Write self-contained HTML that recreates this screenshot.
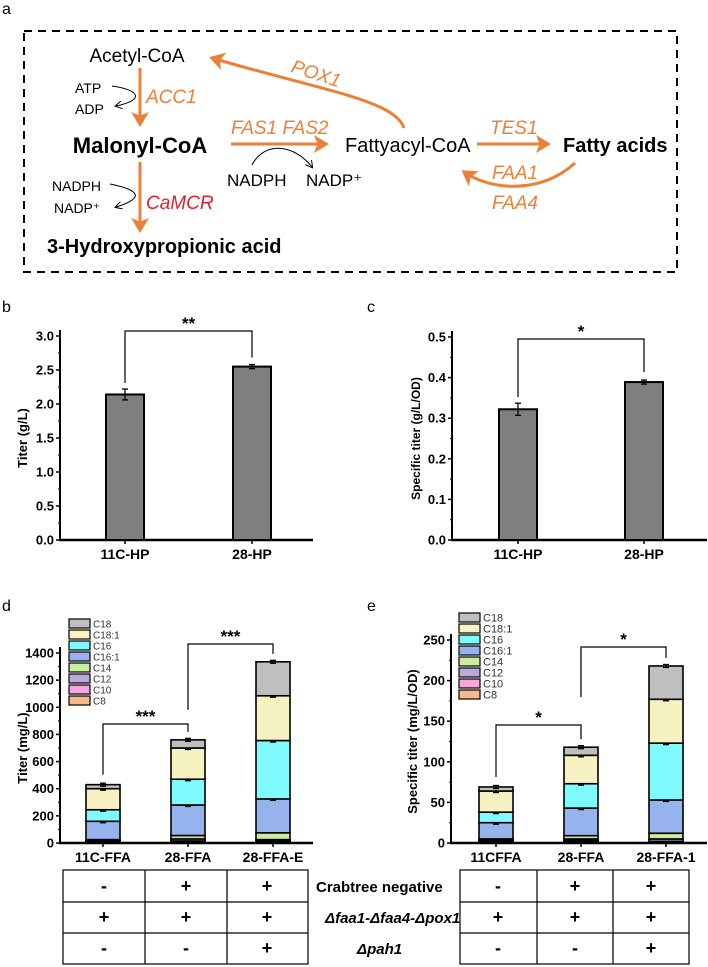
<!DOCTYPE html>
<html><head><meta charset="utf-8"><style>
html,body{margin:0;padding:0;background:#fff}
svg{display:block;font-family:"Liberation Sans",Arial,sans-serif}
</style></head><body>
<svg id="fig" width="708" height="967" viewBox="0 0 708 967" xmlns="http://www.w3.org/2000/svg">
<defs>
<marker id="oa" markerWidth="6" markerHeight="6" refX="4" refY="3" orient="auto" markerUnits="strokeWidth"><path d="M0,0 L5,3 L0,6 L1.2,3 Z" fill="#ec8038"/></marker>
<marker id="ka" markerWidth="8" markerHeight="8" refX="6" refY="4" orient="auto" markerUnits="userSpaceOnUse"><path d="M0,0 L7,4 L0,8" fill="none" stroke="#000" stroke-width="1"/></marker>
</defs>
<!-- Panel a -->
<g>
<text x="2" y="14" font-size="16">a</text>
<rect x="24" y="31" width="653" height="241" fill="none" stroke="#000" stroke-width="2" stroke-dasharray="8,6"/>
<text x="137" y="62" font-size="19" text-anchor="middle">Acetyl-CoA</text>
<text x="140" y="153" font-size="22" font-weight="bold" text-anchor="middle">Malonyl-CoA</text>
<text x="47" y="253" font-size="20" font-weight="bold">3-Hydroxypropionic acid</text>
<text x="345" y="152" font-size="20">Fattyacyl-CoA</text>
<text x="563" y="152" font-size="20" font-weight="bold">Fatty acids</text>
<line x1="140" y1="68" x2="140" y2="124" stroke="#ec8038" stroke-width="3" marker-end="url(#oa)"/>
<line x1="140" y1="162" x2="140" y2="230" stroke="#ec8038" stroke-width="3" marker-end="url(#oa)"/>
<line x1="231" y1="144" x2="326" y2="144" stroke="#ec8038" stroke-width="3" marker-end="url(#oa)"/>
<line x1="477" y1="144" x2="548" y2="144" stroke="#ec8038" stroke-width="3" marker-end="url(#oa)"/>
<path d="M404,128 C395,100 320,90 212,58" fill="none" stroke="#ec8038" stroke-width="3" marker-end="url(#oa)"/>
<path d="M575,163 C540,195 490,190 464,172" fill="none" stroke="#ec8038" stroke-width="3" marker-end="url(#oa)"/>
<g font-style="italic" font-size="19" fill="#ec8038">
<text x="146" y="103">ACC1</text>
<text x="231" y="134">FAS1 FAS2</text>
<text x="290" y="80" transform="rotate(18 316 76)">POX1</text>
<text x="490" y="134">TES1</text>
<text x="492" y="179">FAA1</text>
<text x="492" y="209">FAA4</text>
</g>
<text x="146" y="209" font-style="italic" font-size="19" fill="#e0202a">CaMCR</text>
<g font-size="14">
<text x="75" y="93">ATP</text>
<text x="75" y="114">ADP</text>
<text x="52" y="191">NADPH</text>
<text x="54" y="213">NADP⁺</text>
</g>
<g font-size="17">
<text x="227" y="186">NADPH</text>
<text x="306" y="186">NADP⁺</text>
</g>
<path d="M112,86 C140,90 145,100 116,106" fill="none" stroke="#000" stroke-width="1" marker-end="url(#ka)"/>
<path d="M110,184 C140,190 145,198 116,207" fill="none" stroke="#000" stroke-width="1" marker-end="url(#ka)"/>
<path d="M252,165 C265,140 295,145 312,167" fill="none" stroke="#000" stroke-width="1" marker-end="url(#ka)"/>
</g>
<g id="charts"></g>
<!-- tables -->
<g stroke="#000" stroke-width="1.2" fill="none">
<rect x="63" y="870" width="245" height="94"/>
<line x1="63" y1="902" x2="308" y2="902"/><line x1="63" y1="933" x2="308" y2="933"/>
<line x1="145" y1="870" x2="145" y2="964"/><line x1="227" y1="870" x2="227" y2="964"/>
</g>
<g stroke="#000" stroke-width="1.2" fill="none">
<rect x="460" y="870" width="229" height="94"/>
<line x1="460" y1="902" x2="689" y2="902"/><line x1="460" y1="933" x2="689" y2="933"/>
<line x1="537" y1="870" x2="537" y2="964"/><line x1="613" y1="870" x2="613" y2="964"/>
</g>
<g font-size="15" font-weight="bold">
<text x="316" y="892">Crabtree negative</text>
<text x="325" y="923" font-style="italic">Δfaa1-Δfaa4-Δpox1</text>
<text x="357" y="954" font-style="italic">Δpah1</text>
</g>
<g id="tablecells" font-size="18" font-weight="bold" text-anchor="middle"></g>
</svg>
<script>
// ---- data ----
const barCats = ["11C-HP","28-HP"];
const titerB = [2.14, 2.55];
const titerBErr = [0.08, 0.03];
const specC = [0.322, 0.389];
const specCErr = [0.015, 0.005];
const fattyAcids = ["C8","C10","C12","C14","C16:1","C16","C18:1","C18"];
const faColors = ["#f6b98a","#f6a6da","#b9aad8","#c8eda0","#97b3ee","#80fbfd","#f6f2c2","#bfbfbf"];
const catsD = ["11C-FFA","28-FFA","28-FFA-E"];
const segD_C8 = [5,10,8];
const segD_C10 = [5,5,5];
const segD_C12 = [10,15,12];
const segD_C14 = [5,25,50];
const segD_C161 = [135,225,250];
const segD_C16 = [85,190,430];
const segD_C181 = [155,230,330];
const segD_C18 = [30,60,250];
const catsE = ["11CFFA","28-FFA","28-FFA-1"];
const segE_C8 = [1,2,1];
const segE_C10 = [1,1,1];
const segE_C12 = [2,2,3];
const segE_C14 = [1,4,7];
const segE_C161 = [20,34,41];
const segE_C16 = [13,30,70];
const segE_C181 = [26,35,54];
const segE_C18 = [5,10,41];
const ticksB = [0,0.5,1.0,1.5,2.0,2.5,3.0];
const ticksC = [0,0.1,0.2,0.3,0.4,0.5];
const ticksD = [0,200,400,600,800,1000,1200,1400];
const ticksE = [0,50,100,150,200,250];
const tableD = [["-","+","+"],["+","+","+"],["-","-","+"]];
const tableE = [["-","+","+"],["+","+","+"],["-","-","+"]];

const NS="http://www.w3.org/2000/svg";
const root=document.getElementById('charts');
function mk(tag,at,parent){const e=document.createElementNS(NS,tag);for(const k in at)e.setAttribute(k,at[k]);(parent||root).appendChild(e);return e;}

function axes(cfg){
  const g=mk('g',{});
  
  
  const y=v=>cfg.y0-(v-cfg.min)/(cfg.max-cfg.min)*(cfg.y0-cfg.y1);
  const ya=mk('line',{x1:cfg.x0,y1:cfg.y0+1,x2:cfg.x0,y2:cfg.y1-6,stroke:'#000','stroke-width':2},g);
  
  
  const xa=mk('line',{x1:cfg.x0-1,y1:cfg.y0,x2:cfg.xe,y2:cfg.y0,stroke:'#000','stroke-width':2.5},g);
  
  
  cfg.ticks.forEach((t,i)=>{
    const yy=y(t);
    mk('line',{x1:cfg.x0-4,y1:yy,x2:cfg.x0,y2:yy,stroke:'#000','stroke-width':1.5},g);
    if(i<cfg.ticks.length-1){const ym=y((t+cfg.ticks[i+1])/2);mk('line',{x1:cfg.x0-2,y1:ym,x2:cfg.x0,y2:ym,stroke:'#000','stroke-width':1},g);}
    const tx=mk('text',{x:cfg.x0-6,y:yy+4.5,'font-size':13,'font-weight':'bold','text-anchor':'end'},g);
    tx.textContent=cfg.fmt(t);
    
    
  });
  const at=mk('text',{x:0,y:0,'font-size':cfg.titleSize||13,'font-weight':'bold','text-anchor':'middle',transform:`translate(${cfg.titleX},${(cfg.y0+cfg.y1)/2}) rotate(-90)`},g);
  at.textContent=cfg.title;
  
  
  cfg.cats.forEach((c,i)=>{
    const cx=cfg.xs[i];
    mk('line',{x1:cfg.xs[i],y1:cfg.y0,x2:cfg.xs[i],y2:cfg.y0+4,stroke:'#000','stroke-width':1.5},g);
    const t=mk('text',{x:cx,y:cfg.y0+19,'font-size':14,'font-weight':'bold','text-anchor':'middle'},g);
    t.textContent=c;
    
    
  });
  const pl=mk('text',{x:cfg.lx,y:cfg.ly,'font-size':16},g);
  pl.textContent=cfg.label;
  
  
  return {g,y};
}
function errbar(g,x,yv,ye){
  mk('line',{x1:x,y1:yv-ye,x2:x,y2:yv+ye,stroke:'#000','stroke-width':1.3},g);
  mk('line',{x1:x-3,y1:yv-ye,x2:x+3,y2:yv-ye,stroke:'#000','stroke-width':1.3},g);
  mk('line',{x1:x-3,y1:yv+ye,x2:x+3,y2:yv+ye,stroke:'#000','stroke-width':1.3},g);
}
function bracket(g,x1,x2,yTop,d1,d2,label){
  mk('path',{d:`M${x1},${d1} L${x1},${yTop} L${x2},${yTop} L${x2},${d2}`,fill:'none',stroke:'#000','stroke-width':1.2},g);
  const t=mk('text',{x:(x1+x2)/2,y:yTop-2,'font-size':17,'font-weight':'bold','text-anchor':'middle'},g);
  t.textContent=label;
  
  
}
function simple(cfg,vals,errs){
  const {g,y}=axes(cfg);
  vals.forEach((v,i)=>{
    const r=mk('rect',{x:cfg.xs[i]-19,y:y(v),width:38,height:cfg.y0-y(v),fill:'#7f7f7f',stroke:'#000','stroke-width':2},g);
    
    
    errbar(g,cfg.xs[i],y(v),Math.max(2,(cfg.y0-y(cfg.min+errs[i]))));
  });
  return {g,y};
}
const fmt1=v=>v.toFixed(1);
const b=simple({name:'chart-b-titer',x0:60,xe:313,y0:540,y1:336,min:0,max:3,ticks:ticksB,fmt:fmt1,title:'Titer (g/L)',titleX:27,cats:barCats,xs:[125,252],lx:2,ly:312,label:'b'},titerB,titerBErr);
bracket(b.g,125,252,331,b.y(titerB[0]+titerBErr[0])-6,b.y(titerB[1])-9,'**');
const c=simple({name:'chart-c-specific-titer',x0:452,xe:707,y0:540,y1:337,min:0,max:0.5,ticks:ticksC,fmt:fmt1,title:'Specific titer (g/L/OD)',titleX:420,titleSize:12,cats:barCats,xs:[518,644],lx:367,ly:312,label:'c'},specC,specCErr);
bracket(c.g,518,644,339,c.y(specC[0]+specCErr[0])-6,c.y(specC[1])-10,'*');

function stacked(cfg,segs,legX,legY){
  const {g,y}=axes(cfg);
  const tops=[];
  cfg.cats.forEach((cat,i)=>{
    let cum=0;
    segs.forEach((s,k)=>{
      const y1=y(cum+s[i]),y0=y(cum);
      const r=mk('rect',{x:cfg.xs[i]-17,y:y1,width:34,height:y0-y1,fill:faColors[k],stroke:'#000','stroke-width':1.6},g);
      
      
      cum+=s[i];
      if(k>=4) errbar(g,cfg.xs[i],y1,1.5);
    });
    tops.push(cum);
  });
  const lg=mk('g',{},g);
  
  
  for(let k=7;k>=0;k--){
    const row=7-k, yy=legY+row*11;
    mk('rect',{x:legX,y:yy,width:21,height:9,fill:faColors[k],stroke:'#000','stroke-width':1.2},lg);
    const t=mk('text',{x:legX+24,y:yy+8.5,'font-size':cfg.legSize,fill:'#333'},lg);
    t.textContent=fattyAcids[k];
    
    
  }
  return {g,y,tops};
}
const segsD=[segD_C8,segD_C10,segD_C12,segD_C14,segD_C161,segD_C16,segD_C181,segD_C18];
const d=stacked({name:'chart-d-fatty-acid-titer',x0:60,xe:313,y0:843,y1:653,min:0,max:1400,ticks:ticksD,fmt:v=>String(v),title:'Titer (mg/L)',titleX:27,cats:catsD,xs:[103,188,273],lx:2,ly:611,label:'d',legSize:10},segsD,69,619);
bracket(d.g,103,188,724,d.y(d.tops[0])-10,d.y(d.tops[1])-8,'***');
bracket(d.g,188,273,644,d.y(d.tops[1])-30,d.y(d.tops[2])-8,'***');
const segsE=[segE_C8,segE_C10,segE_C12,segE_C14,segE_C161,segE_C16,segE_C181,segE_C18];
const e=stacked({name:'chart-e-specific-titer',x0:451,xe:707,y0:843,y1:640,min:0,max:250,ticks:ticksE,fmt:v=>String(v),title:'Specific titer (mg/L/OD)',titleX:417,cats:catsE,xs:[496,581,666],lx:367,ly:611,label:'e',legSize:11,titleSize:13},segsE,459,613);
bracket(e.g,496,581,725,e.y(e.tops[0])-10,e.y(e.tops[1])-8,'*');
bracket(e.g,581,666,647,e.y(e.tops[1])-50,e.y(e.tops[2])-8,'*');

const tc=document.getElementById('tablecells');
function cells(tab,xs){
  tab.forEach((row,r)=>row.forEach((v,i)=>{
    const t=mk('text',{x:xs[i],y:892+r*31},tc);
    t.textContent=v;
    
    
  }));
}
cells(tableD,[104,186,267]);
cells(tableE,[498,575,651]);
</script>
</body></html>
